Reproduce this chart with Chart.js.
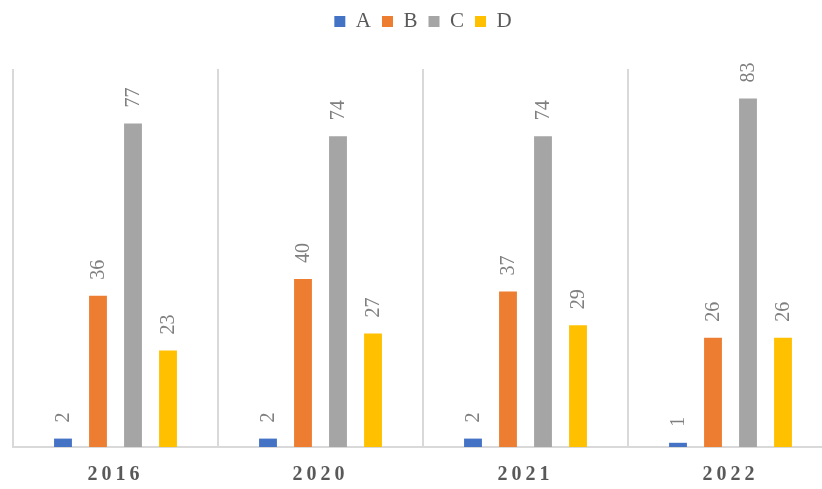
<!DOCTYPE html>
<html>
<head>
<meta charset="utf-8">
<script src="https://cdn.jsdelivr.net/npm/chart.js@4.4.1/dist/chart.umd.min.js"></script>
<style>
  html, body { margin: 0; padding: 0; background: #fff; overflow: hidden; }
  #wrap { width: 840px; height: 489px; }
</style>
</head>
<body>
<div id="wrap"><canvas id="myChart" width="840" height="489"></canvas></div>
<script>
const years = ['2016', '2020', '2021', '2022'];
const seriesA = [2, 2, 2, 1];
const seriesB = [36, 40, 37, 26];
const seriesC = [77, 74, 74, 83];
const seriesD = [23, 27, 29, 26];

const ctx = document.getElementById('myChart');

// push the plot area down below the legend, space out the year labels
const legendSpacer = {
    id: 'legendSpacer',
    beforeLayout(chart) {
        if (chart.legend && !chart.legend._spaced) {
            const fit = chart.legend.fit;
            chart.legend.fit = function () {
                fit.call(this);
                this.height += 27;
            };
            chart.legend._spaced = true;
        }
    },
    afterLayout(chart) {
        const x = chart.scales.x;
        if (!x._spaced) {
            const draw = x.drawLabels;
            x.drawLabels = function (area) {
                this.ctx.save();
                this.ctx.letterSpacing = '4px';
                draw.call(this, area);
                this.ctx.restore();
            };
            x._spaced = true;
        }
    }
};

// rotated value labels above each bar
const barLabels = {
    id: 'barLabels',
    afterDatasetsDraw(chart) {
        const c = chart.ctx;
        c.save();
        c.font = '20px "Liberation Serif"';
        c.fillStyle = '#7f7f7f';
        c.textAlign = 'left';
        c.textBaseline = 'middle';
        chart.data.datasets.forEach((ds, i) => {
            chart.getDatasetMeta(i).data.forEach((bar, j) => {
                c.save();
                c.translate(bar.x + 1, bar.y - 16);
                c.rotate(-Math.PI / 2);
                c.fillText(ds.data[j], 0, 0);
                c.restore();
            });
        });
        c.restore();
    }
};

Chart.defaults.font.family = '"Liberation Serif"';
Chart.defaults.color = '#595959';

const myChart = new Chart(ctx, {
    type: 'bar',
    data: {
        labels: years,
        datasets: [
            { label: 'A', data: seriesA, backgroundColor: '#4472C4' },
            { label: 'B', data: seriesB, backgroundColor: '#ED7D31' },
            { label: 'C', data: seriesC, backgroundColor: '#A5A5A5' },
            { label: 'D', data: seriesD, backgroundColor: '#FFC000' }
        ]
    },
    options: {
        responsive: false,
        animation: false,
        categoryPercentage: 0.683,
        barPercentage: 0.51,
        layout: {
            padding: { left: 13, right: 7, top: 0, bottom: -14 }
        },
        plugins: {
            legend: {
                position: 'top',
                labels: {
                    boxWidth: 11,
                    boxHeight: 11,
                    padding: 11,
                    color: '#595959',
                    font: { size: 21 }
                }
            },
            tooltip: { enabled: false }
        },
        scales: {
            x: {
                grid: {
                    color: '#d9d9d9',
                    lineWidth: 2,
                    drawTicks: false
                },
                border: { color: '#d9d9d9', width: 2 },
                ticks: {
                    padding: 16,
                    color: '#595959',
                    font: { size: 20, weight: 'bold' }
                }
            },
            y: {
                display: false,
                min: 0,
                max: 90
            }
        }
    },
    plugins: [legendSpacer, barLabels]
});
</script>
</body>
</html>
